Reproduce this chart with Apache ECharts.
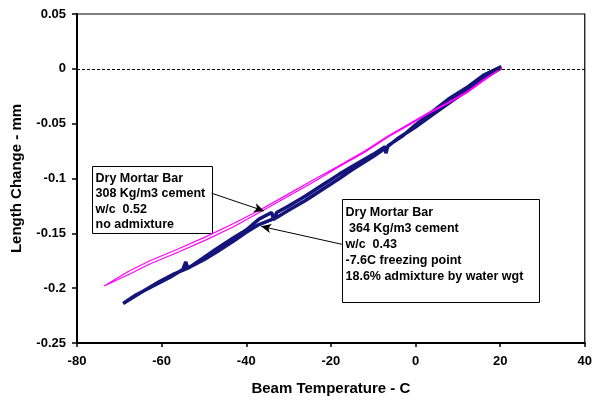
<!DOCTYPE html>
<html>
<head>
<meta charset="utf-8">
<script src="https://cdn.jsdelivr.net/npm/echarts@6/dist/echarts.min.js"></script>
<style>
  html, body { margin: 0; padding: 0; background: #fff; }
  #chart { width: 595px; height: 402px; }
</style>
</head>
<body>
<div id="chart"></div>
<script>
// 308 Kg/m3 bar (magenta), cooling then warming
const pinkCoolTemp = [20.5, 16, 12.5, 8, 3, -1, -6.4, -12, -18.4, -24, -30, -36.9, -43, -49.5, -56, -62.8, -68, -73.6];
const pinkCoolLen = [0.001, -0.011, -0.021, -0.031, -0.041, -0.050, -0.062, -0.076, -0.090, -0.103, -0.116, -0.131, -0.144, -0.156, -0.167, -0.178, -0.188, -0.198];
const pinkWarmTemp = [-73.6, -68, -62.8, -56, -49.5, -43, -36.9, -30, -24, -18.4, -12, -6.4, -1, 3, 8, 12.5, 16, 20.5];
const pinkWarmLen = [-0.197, -0.185, -0.175, -0.164, -0.153, -0.141, -0.129, -0.114, -0.101, -0.089, -0.075, -0.061, -0.049, -0.040, -0.030, -0.020, -0.010, 0.001];

// 364 Kg/m3 bar (navy)
const navyCoolTemp = [20.3, 16, 12.5, 8, 4, 0, -4, -7, -10, -15, -18, -22, -26, -30, -33, -37, -40, -43, -47, -50, -54, -57, -60.5, -64, -67, -69.1];
const navyCoolLen = [0.001, -0.009, -0.019, -0.031, -0.042, -0.053, -0.063, -0.072, -0.080, -0.092, -0.100, -0.110, -0.120, -0.129, -0.136, -0.142, -0.149, -0.157, -0.167, -0.174, -0.182, -0.187, -0.194, -0.202, -0.209, -0.214];
const navyWarmTemp = [-69.1, -66, -62, -58, -55, -54.3, -53.8, -50, -47, -43, -40, -37, -34, -33.5, -32.8, -30, -26, -22, -18, -15, -10, -7.2, -7, -6.5, -3, 0, 4, 8, 12.5, 16, 20.3];
const navyWarmLen = [-0.213, -0.206, -0.198, -0.190, -0.183, -0.176, -0.182, -0.172, -0.164, -0.154, -0.147, -0.137, -0.131, -0.138, -0.131, -0.125, -0.116, -0.106, -0.096, -0.089, -0.078, -0.071, -0.077, -0.070, -0.061, -0.051, -0.039, -0.027, -0.016, -0.006, 0.002];

const xTicks = [-80, 40, 20];
const yTicks = [-0.25, 0.05, 0.05];

const note1 = ["Dry Mortar Bar", "308 Kg/m3 cement", "w/c  0.52", "no admixture"];
const note2 = ["Dry Mortar Bar", " 364 Kg/m3 cement", "w/c  0.43", "-7.6C freezing point", "18.6% admixture by water wgt"];

// arrows: [from, to] in data units
const arrow1 = [[-48.2, -0.1134], [-35.8, -0.1296]];
const arrow2 = [[-17.4, -0.160], [-36.5, -0.1436]];

function zip(a, b) {
    return a.map((v, i) => [v, b[i]]);
}

const pinkData = zip(pinkCoolTemp, pinkCoolLen).concat(zip(pinkWarmTemp, pinkWarmLen));
const navyData = zip(navyCoolTemp, navyCoolLen).concat(zip(navyWarmTemp, navyWarmLen));

const font = "Liberation Sans, Arial, sans-serif";

function arrowLine(a) {
    return [
        { coord: a[0], symbol: "none" },
        { coord: a[1], symbol: "arrow" }
    ];
}

function noteBox(lines, x, y, w, h, lh, pad) {
    return {
        type: "group",
        left: x,
        top: y,
        children: [
            {
                type: "rect",
                shape: { x: 0, y: 0, width: w, height: h },
                style: { fill: "#fff", stroke: "#000", lineWidth: 1 }
            },
            {
                type: "text",
                x: 3,
                y: pad,
                style: {
                    text: lines.join("\n"),
                    font: "bold 12.5px " + font,
                    lineHeight: lh,
                    fill: "#000"
                }
            }
        ]
    };
}

const chart = echarts.init(document.getElementById("chart"));

chart.setOption({
    animation: false,
    grid: {
        left: 77,
        right: 8,
        top: 14,
        bottom: 59,
        show: true,
        borderColor: "#000",
        borderWidth: 1.2
    },
    xAxis: {
        type: "value",
        min: xTicks[0],
        max: xTicks[1],
        interval: xTicks[2],
        name: "Beam Temperature - C",
        nameLocation: "middle",
        nameGap: 38,
        nameTextStyle: { fontFamily: font, fontWeight: "bold", fontSize: 15, color: "#000" },
        axisLine: { onZero: false, lineStyle: { color: "#000", width: 2 } },
        axisTick: { inside: false, length: 4, lineStyle: { color: "#000", width: 1.5 } },
        axisLabel: { margin: 12, fontFamily: font, fontWeight: "bold", fontSize: 13, color: "#000" },
        splitLine: { show: false }
    },
    yAxis: {
        type: "value",
        min: yTicks[0],
        max: yTicks[1],
        interval: yTicks[2],
        name: "Length Change - mm",
        nameLocation: "middle",
        nameGap: 53,
        nameTextStyle: { fontFamily: font, fontWeight: "bold", fontSize: 15, color: "#000" },
        axisLine: { onZero: false, lineStyle: { color: "#000", width: 2 } },
        axisTick: { inside: false, length: 5, lineStyle: { color: "#000", width: 1.5 } },
        axisLabel: {
            margin: 11,
            fontFamily: font,
            fontWeight: "bold",
            fontSize: 13,
            color: "#000",
            formatter: v => String(Math.round(v * 100) / 100)
        },
        splitLine: { show: false }
    },
    series: [
        {
            name: "308 Kg/m3",
            type: "line",
            data: pinkData,
            showSymbol: false,
            lineStyle: { color: "#ff00ff", width: 1.2 },
            z: 3,
            markLine: {
                silent: true,
                symbol: "none",
                label: { show: false },
                lineStyle: { color: "#000", type: [3, 2], width: 1 },
                data: [{ yAxis: 0 }]
            }
        },
        {
            name: "364 Kg/m3",
            type: "line",
            data: navyData,
            showSymbol: false,
            lineStyle: { color: "#14147a", width: 3.5 },
            z: 2,
            markLine: {
                silent: true,
                symbolSize: [7, 10],
                label: { show: false },
                lineStyle: { color: "#000", type: "solid", width: 1 },
                data: [arrowLine(arrow1), arrowLine(arrow2)]
            }
        }
    ],
    graphic: [
        noteBox(note1, 92, 166, 120, 67, 15.5, 4),
        noteBox(note2, 342, 199, 197, 103, 16, 5)
    ]
});
</script>
</body>
</html>
